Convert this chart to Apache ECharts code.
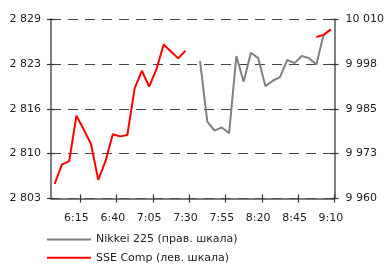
<!DOCTYPE html>
<html>
<head>
<meta charset="utf-8">
<script src="https://cdn.jsdelivr.net/npm/echarts@6/dist/echarts.min.js"></script>
<style>html,body{margin:0;padding:0;background:#fff}#c{width:387px;height:264px}</style>
</head>
<body>
<div id="c"></div>
<script>
var categories = ["6:00","6:05","6:10","6:15","6:20","6:25","6:30","6:35","6:40","6:45",
  "6:50","6:55","7:00","7:05","7:10","7:15","7:20","7:25","7:30","7:35",
  "7:40","7:45","7:50","7:55","8:00","8:05","8:10","8:15","8:20","8:25",
  "8:30","8:35","8:40","8:45","8:50","8:55","9:00","9:05","9:10"];
var sseComp = [2805.1,2807.9,2808.4,2815.0,2813.0,2810.9,2805.7,2808.4,2812.3,2812.0,
  2812.2,2818.9,2821.5,2819.2,2821.7,2825.3,2824.3,2823.3,2824.4,null,
  null,null,null,null,null,null,null,null,null,null,
  null,null,null,null,null,null,2826.4,2826.7,2827.5];
var nikkei = [null,null,null,null,null,null,null,null,null,null,
  null,null,null,null,null,null,null,null,null,null,
  9998.3,9981.4,9978.9,9979.8,9978.2,9999.7,9992.5,10000.6,9999.1,9991.3,
  9992.8,9993.8,9998.6,9997.7,9999.7,9999.1,9997.3,10005.6,null];
var leftTicks = {min: 2803, max: 2829, step: 6.5};
var rightTicks = {min: 9960, max: 10010, step: 12.5};
var names = ["Nikkei 225 (прав. шкала)", "SSE Comp (лев. шкала)"];

function fmt(base){
  return function(v){
    var n = Math.round(v + base);
    return String(n).replace(/\B(?=(\d{3})+(?!\d))/g, ' ');
  };
}
function shift(arr, base){ return arr.map(function(v){ return v == null ? null : +(v - base).toFixed(3); }); }

var font = 'DejaVu Sans';
var axisCol = '#555';
function yAx(pos, t, main){
  return {
    type: 'value', position: pos, min: 0, max: t.max - t.min, interval: t.step,
    axisLine: {show: main, lineStyle: {color: axisCol, width: 1.5}},
    axisTick: {show: true, inside: !main, length: 4, lineStyle: {color: '#333', width: 1.2}},
    axisLabel: {show: main, formatter: fmt(t.min), color: '#222', fontFamily: font, fontSize: 11, margin: pos === 'left' ? 10 : 11},
    splitLine: {show: main && pos === 'left', lineStyle: {color: '#444', type: [10, 7], width: 1.2}}
  };
}
function xAx(main){
  return {
    type: 'category', position: 'bottom', data: categories, boundaryGap: true,
    axisLine: {show: main, onZero: false, lineStyle: {color: axisCol, width: 1.5}},
    axisTick: {show: true, inside: !main, length: 4, interval: function(i){ return i % 5 === 4; }, lineStyle: {color: '#333', width: 1.2}},
    axisLabel: {show: main, interval: function(i){ return i % 5 === 3; }, color: '#222', fontFamily: font, fontSize: 11, margin: 14},
    splitLine: {show: false}
  };
}
function leg(name, top){
  return {
    orient: 'vertical', left: 46, top: top, padding: 0, itemWidth: 44, itemHeight: 12,
    itemStyle: {opacity: 0},
    data: [name], textStyle: {fontFamily: font, fontSize: 11, color: '#222'}
  };
}
var chart = echarts.init(document.getElementById('c'), null, {renderer: 'canvas'});
chart.setOption({
  animation: false,
  grid: {left: 51, right: 52, top: 19, bottom: 65.5, containLabel: false},
  xAxis: [xAx(true), xAx(false)],
  yAxis: [yAx('left', leftTicks, true), yAx('right', rightTicks, true), yAx('left', leftTicks, false), yAx('right', rightTicks, false)],
  legend: [leg(names[0], 234), leg(names[1], 252.3)],
  series: [
    {name: names[0], type: 'line', xAxisIndex: 0, yAxisIndex: 1, data: shift(nikkei, rightTicks.min), symbol: 'none',
      lineStyle: {color: '#808080', width: 2}, itemStyle: {color: '#808080'}},
    {name: names[1], type: 'line', xAxisIndex: 0, yAxisIndex: 0, data: shift(sseComp, leftTicks.min), symbol: 'none',
      lineStyle: {color: '#ff0000', width: 2}, itemStyle: {color: '#ff0000'}}
  ]
});
</script>
</body>
</html>
